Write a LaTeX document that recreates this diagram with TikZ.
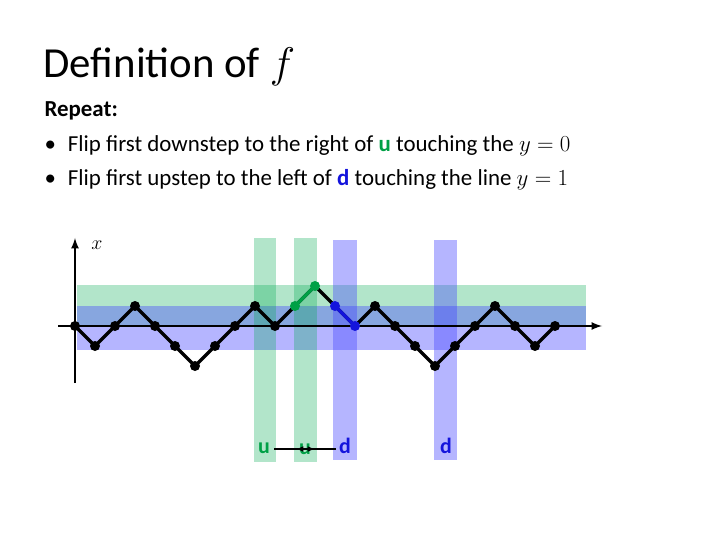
\RequirePackage{fix-cm}
\documentclass[tikz,border=0pt]{standalone}
\usepackage{fontspec}
\setmainfont{Carlito}
\definecolor{bandgreen}{RGB}{0,170,80}
\definecolor{bandblue}{RGB}{70,70,255}
\definecolor{ugreen}{RGB}{0,160,70}
\definecolor{dblue}{RGB}{20,20,220}
\tikzset{dot/.style={circle,fill=black,inner sep=0pt,minimum size=10bp},
  gband/.style={fill=bandgreen,opacity=.3},
  bband/.style={fill=bandblue,opacity=.4},
  path/.style={line width=3.5bp,line join=round},
  lbl/.style={font=\fontsize{22}{26}\selectfont\bfseries}}
\begin{document}
\begin{tikzpicture}[x=1bp,y=-1bp]
\useasboundingbox (0,0) rectangle (720,540);
\node[anchor=west,font=\fontsize{43}{48}\selectfont] (title) at (40,67) {Definition of $f$};
\node[anchor=west,font=\fontsize{23}{27}\selectfont\bfseries] (rep) at (41,111) {Repeat:};
\node[anchor=west,font=\fontsize{23}{27}\selectfont] (l1) at (41,146) {\textbullet\hspace{12bp}Flip first downstep to the right of \textbf{\color{ugreen}u} touching the $y=0$};
\node[anchor=west,font=\fontsize{23}{27}\selectfont] (l2) at (41,180) {\textbullet\hspace{12bp}Flip first upstep to the left of \textbf{\color{dblue}d} touching the line $y=1$};
% bands
\fill[gband] (77,285) rectangle (586,326);
\fill[bband] (77,306) rectangle (586,350);
\fill[gband] (254,238) rectangle (276,462);
\fill[gband] (294,238) rectangle (317,462);
\fill[bband] (333,240) rectangle (357,460);
\fill[bband] (434,240) rectangle (457,460);
% axes
\draw[line width=2.5bp,-latex] (75,383) -- (75,238);
\node[font=\fontsize{20}{24}\selectfont] (xl) at (97,245) {$x$};
\draw[line width=2.5bp,-latex] (58,326) -- (602,326);
% walk
\foreach \h [count=\i from 0] in {0,-1,0,1,0,-1,-2,-1,0,1,0,1,2,1,0,1,0,-1,-2,-1,0,1,0,-1,0}
  \coordinate (p\i) at (75+20*\i,326-20*\h);
\draw[path] (p0) \foreach \i in {1,...,24}{ -- (p\i)};
\draw[path,ugreen] (p11) -- (p12);
\draw[path,dblue] (p13) -- (p14);
\foreach \i in {0,...,24}{
  \ifnum\i=11 \node[dot,fill=ugreen] at (p\i) {};
  \else\ifnum\i=12 \node[dot,fill=ugreen] at (p\i) {};
  \else\ifnum\i=13 \node[dot,fill=dblue] at (p\i) {};
  \else\ifnum\i=14 \node[dot,fill=dblue] at (p\i) {};
  \else \node[dot] at (p\i) {};\fi\fi\fi\fi}
% labels
\node[lbl,text=ugreen] (u1) at (264,448) {u};
\node[lbl,text=ugreen] (u2) at (305,449) {u};
\node[lbl,text=dblue] (d1) at (345,446) {d};
\node[lbl,text=dblue] (d2) at (446,446) {d};
\coordinate (a) at (274,449);
\coordinate (b) at (336,449);
\draw[line width=2bp] (a) -- (b);
\draw[line width=1.5bp,latex-latex] (296,449) -- (315,449);
\end{tikzpicture}
\end{document}
